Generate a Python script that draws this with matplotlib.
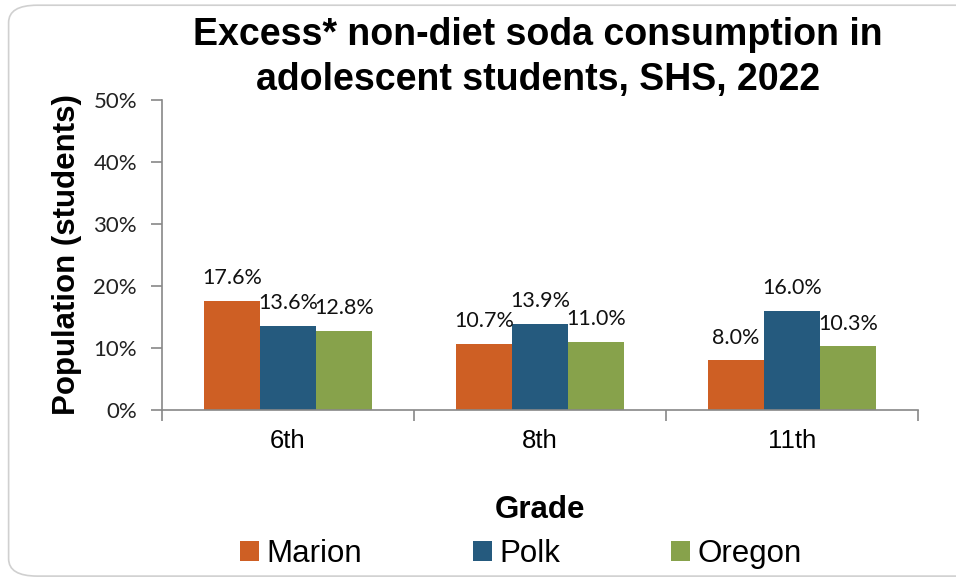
import matplotlib
matplotlib.use("Agg")
import matplotlib.pyplot as plt
from matplotlib.patches import FancyBboxPatch
import numpy as np

grades = ["6th", "8th", "11th"]
series_names = ["Marion", "Polk", "Oregon"]
marion = [17.6, 10.7, 8.0]
polk = [13.6, 13.9, 16.0]
oregon = [12.8, 11.0, 10.3]
colors = ["#CE5F24", "#255A7E", "#87A24B"]
yticks = [0, 10, 20, 30, 40, 50]

plt.rcParams['font.family'] = ['Liberation Sans', 'DejaVu Sans']

fig = plt.figure(figsize=(9.56, 5.79), dpi=100)
fig.patches.append(FancyBboxPatch((0.009, 0.005), 1.2, 0.986, boxstyle="round,pad=0,rounding_size=0.03",
                                  transform=fig.transFigure, facecolor="white", edgecolor="#D0D0D0",
                                  linewidth=1.2, zorder=-1))
ax = fig.add_axes([0.1695, 0.2919, 0.7908, 0.5354])
ax.set_facecolor("none")

x = np.arange(len(grades))
w = 0.222
for i, (vals, name, c) in enumerate(zip([marion, polk, oregon], series_names, colors)):
    pos = x + (i - 1) * w
    ax.bar(pos, vals, w, color=c, label=name, zorder=2)
    for xp, v in zip(pos, vals):
        ax.annotate(f"{v:.1f}%", (xp, v), xytext=(0, 9), textcoords="offset points",
                    ha="center", va="bottom", fontsize=15.5, family=["Lato", "DejaVu Sans"], color="#111111")

ax.set_xlim(-0.5, 2.5)
ax.set_ylim(0, 50)
ax.set_yticks(yticks)
ax.set_yticklabels([f"{t}%" for t in yticks], fontsize=16, family=["Lato", "DejaVu Sans"], color="#222222")
ax.set_xticks(x)
ax.set_xticklabels(grades, fontsize=18.5)
ax.tick_params(axis="x", length=0, pad=14)
ax.set_xticks([-0.5, 0.5, 1.5, 2.5], minor=True)
ax.tick_params(axis="x", which="minor", length=8, color="#888888", width=1.2)
ax.tick_params(axis="y", length=8, color="#888888", width=1.2, pad=10)
for s in ["top", "right"]:
    ax.spines[s].set_visible(False)
for s in ["left", "bottom"]:
    ax.spines[s].set_color("#888888")
    ax.spines[s].set_linewidth(1.2)

ax.set_ylabel("Population (students)", fontsize=22.5, fontweight="bold", labelpad=8)
ax.set_xlabel("Grade", fontsize=22.5, fontweight="bold", labelpad=30)
fig.suptitle("Excess* non-diet soda consumption in\nadolescent students, SHS, 2022",
             fontsize=27, fontweight="bold", x=0.563, y=0.97, linespacing=1.3)

leg = fig.legend(loc="lower center", bbox_to_anchor=(0.545, -0.032), ncol=3, frameon=False,
                 fontsize=22.5, handlelength=0.6, handleheight=0.6, columnspacing=3.55, handletextpad=0.25)

fig.savefig("out.png", dpi=100)
